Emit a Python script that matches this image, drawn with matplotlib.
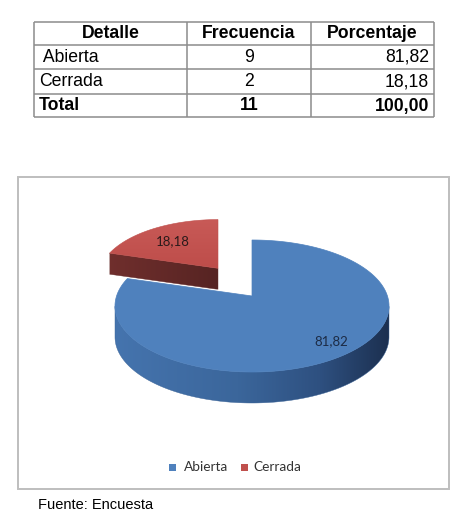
import numpy as np
import matplotlib
matplotlib.use("Agg")
import matplotlib.pyplot as plt
from matplotlib.patches import Polygon, Rectangle
import matplotlib.colors as mcolors

# ---------------- data ----------------
header = ["Detalle", "Frecuencia", "Porcentaje"]
detalle = ["Abierta", "Cerrada"]
frecuencia = [9, 2]
porcentaje = [81.82, 18.18]
total_label = "Total"
total_frec = 11
total_pct = 100.00
source_text = "Fuente: Encuesta"
pie_colors = ["#4F81BD", "#C0504D"]


def fmt(v):
    return f"{v:.2f}".replace(".", ",")


W, H = 459, 513
fig = plt.figure(figsize=(W / 100, H / 100), dpi=100)
ax = fig.add_axes([0, 0, 1, 1])
ax.set_xlim(0, W)
ax.set_ylim(H, 0)
ax.axis("off")

# ---------------- table ----------------
TF = ["Liberation Sans", "DejaVu Sans"]
col_edges = [34, 187, 311, 434]
row_edges = [22, 45, 69, 94, 117]
gcol = "#8C8C8C"
for x in col_edges:
    ax.plot([x, x], [row_edges[0], row_edges[-1]], color=gcol, lw=1.1, solid_capstyle="butt")
for y in row_edges:
    ax.plot([col_edges[0], col_edges[-1]], [y, y], color=gcol, lw=1.1, solid_capstyle="butt")

rows = [(header[0], header[1], header[2], "bold", True)]
for d, f, p in zip(detalle, frecuencia, porcentaje):
    rows.append((d, str(f), fmt(p), "normal", False))
rows.append((total_label, str(total_frec), fmt(total_pct), "bold", False))

fs = 12.7
for i, (a, b, c, wt, is_head) in enumerate(rows):
    yc = (row_edges[i] + row_edges[i + 1]) / 2 + 0.5
    if is_head:
        ax.text((col_edges[0] + col_edges[1]) / 2, yc, a, ha="center", va="center",
                fontsize=fs, fontweight=wt, family=TF)
        ax.text((col_edges[2] + col_edges[3]) / 2, yc, c, ha="center", va="center",
                fontsize=fs, fontweight=wt, family=TF)
    else:
        lead = " " if a == detalle[0] else ""
        ax.text(col_edges[0] + 5, yc, lead + a, ha="left", va="center",
                fontsize=fs, fontweight=wt, family=TF)
        ax.text(col_edges[3] - 5, yc, c, ha="right", va="center",
                fontsize=fs, fontweight=wt, family=TF)
    ax.text((col_edges[1] + col_edges[2]) / 2, yc, b, ha="center", va="center",
            fontsize=fs, fontweight=wt, family=TF)

# ---------------- chart box ----------------
ax.add_patch(Rectangle((18, 177), 431, 312, fill=False, ec="#BEBEBE", lw=1.4))

# ---------------- 3D pie ----------------
cx, cy = 252, 306      # ellipse centre of main pie
rx, ry = 137, 66
depth = 31
tip_dy = -10           # perspective shift of the pie tip
# per-wedge layout: (offset dx, offset dy, scale, depth factor)
wedge_layout = [(0, 0, 1.0, 1.0), (-34, -29, 0.87, 0.68)]
label_frac = [(0.58, 0.53), (-0.38, -0.62)]
label_colors = ["#1C2B45", "#2A1A1A"]

fracs = np.array(porcentaje) / sum(porcentaje)
cum = np.concatenate([[0], np.cumsum(fracs)]) * 360
angles = [(90 - cum[i + 1], 90 - cum[i]) for i in range(len(fracs))]


def shade(c, f):
    r, g, b = mcolors.to_rgb(c)
    return (r * f, g * f, b * f)


def gradient_fill(poly_pts, stops, z, horizontal=True, extent=None):
    """Fill polygon with a linear gradient via a clipped image."""
    pts = np.asarray(poly_pts)
    x0, x1 = pts[:, 0].min(), pts[:, 0].max()
    y0, y1 = pts[:, 1].min(), pts[:, 1].max()
    if extent is not None:
        x0, x1 = extent
    n = 256
    cmap = mcolors.LinearSegmentedColormap.from_list("g", stops)
    grad = np.linspace(0, 1, n)
    img = grad[None, :] if horizontal else grad[:, None]
    poly = Polygon(pts, closed=True, fc="none", ec="none")
    ax.add_patch(poly)
    im = ax.imshow(img, cmap=cmap, extent=(x0, x1, y1, y0) if horizontal else (x0, x1, y1, y0),
                   aspect="auto", zorder=z, interpolation="bilinear")
    im.set_clip_path(poly)
    # thin outline to hide aliasing
    ax.add_patch(Polygon(pts, closed=True, fc="none", ec=cmap(0.5), lw=0.3, zorder=z))


def draw_wedge(i, zbase):
    t1, t2 = angles[i]
    dx, dy, sc, dfac = wedge_layout[i]
    ecx, ecy = cx + dx, cy + dy
    erx, ery = rx * sc, ry * sc
    d = depth * dfac
    tip = np.array([ecx, ecy + tip_dy * sc])
    col = pie_colors[i]

    def pt(t):
        r = np.radians(t)
        return np.array([ecx + erx * np.cos(r), ecy - ery * np.sin(r)])

    ts = np.linspace(t1, t2, 500)
    arc = np.array([pt(t) for t in ts])

    # outer side (front-facing part)
    front = np.sin(np.radians(ts)) <= 0
    if front.any():
        fa = arc[front]
        side = np.vstack([fa, fa[::-1] + [0, d]])
        if i == 0:
            stops = [(0, "#4574AE"), (0.45, "#3B669B"), (0.75, "#2E5080"), (1, "#1C3050")]
        else:
            stops = [(0, shade(col, 0.55)), (1, shade(col, 0.4))]
        gradient_fill(side, stops, zbase, extent=(ecx - erx, ecx + erx))

    # radial faces
    for te, sign in ((t1, -1), (t2, 1)):
        nrm = te + sign * 90
        if np.sin(np.radians(nrm)) < -0.05:
            e = pt(te)
            face = [e, tip, tip + [0, d], e + [0, d]]
            gradient_fill(face, [(0, shade(col, 0.58)), (1, shade(col, 0.45))], zbase + 1)

    # top face
    top = np.vstack([tip, arc])
    if i == 0:
        ax.add_patch(Polygon(top, closed=True, fc=col, ec=col, lw=0.5, zorder=zbase + 2))
    else:
        poly = Polygon(top, closed=True, fc="none", ec="none")
        ax.add_patch(poly)
        cmap = mcolors.LinearSegmentedColormap.from_list("r", ["#C85A57", "#BE4D4A"])
        ys0, ys1 = top[:, 1].min(), top[:, 1].max()
        im = ax.imshow(np.linspace(0, 1, 256)[:, None], cmap=cmap,
                       extent=(top[:, 0].min(), top[:, 0].max(), ys1, ys0),
                       aspect="auto", zorder=zbase + 2, interpolation="bilinear")
        im.set_clip_path(poly)
        ax.add_patch(Polygon(top, closed=True, fc="none", ec=col, lw=0.4, zorder=zbase + 2))

    lx = ecx + label_frac[i][0] * erx
    ly = ecy + label_frac[i][1] * ery
    ax.text(lx, ly, fmt(porcentaje[i]), ha="center", va="center", fontsize=9.5,
            family=["Lato", "DejaVu Sans"], color=label_colors[i], zorder=zbase + 3)


draw_wedge(1, 2)
draw_wedge(0, 6)

ax.set_xlim(0, W)
ax.set_ylim(H, 0)

# ---------------- legend ----------------
LF = ["Lato", "DejaVu Sans"]
leg_y = 467
leg_items = [(169, detalle[0], pie_colors[0], 15), (241, detalle[1], pie_colors[1], 12)]
for x0, lab, c, gap in leg_items:
    ax.add_patch(Rectangle((x0, leg_y - 3.5), 7, 7, fc=c, ec="none"))
    ax.text(x0 + gap, leg_y, lab, ha="left", va="center",
            fontsize=9.8, family=LF, color="#333333")

# ---------------- source ----------------
ax.text(38, 512, source_text, ha="left", va="bottom", fontsize=10.5, family=TF,
        color="#000000")

fig.savefig("out.png", dpi=100)
